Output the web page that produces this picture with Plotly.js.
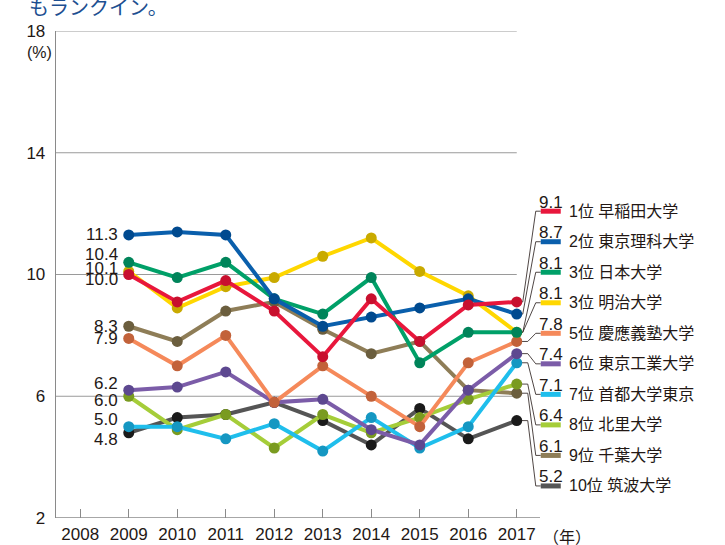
<!DOCTYPE html>
<html>
<head>
<meta charset="utf-8">
<script src="https://cdn.plot.ly/plotly-3.0.1.min.js"></script>
<style>
  body { margin: 0; background: #fff; }
  #chart { width: 725px; height: 545px; }
</style>
</head>
<body>
<div id="chart"></div>
<script>
// years and universities
const years = [2009, 2010, 2011, 2012, 2013, 2014, 2015, 2016, 2017];
const xTicks = [2008, 2009, 2010, 2011, 2012, 2013, 2014, 2015, 2016, 2017];
const ranks = ["1位", "2位", "3位", "3位", "5位", "6位", "7位", "8位", "9位", "10位"];
const names = ["早稲田大学", "東京理科大学", "日本大学", "明治大学", "慶應義塾大学",
  "東京工業大学", "首都大学東京", "北里大学", "千葉大学", "筑波大学"];

// shares (%) per year
const waseda   = [10.0, 9.1, 9.8, 8.8, 7.3, 9.2, 7.8, 9.0, 9.1];
const rikadai  = [11.3, 11.4, 11.3, 9.2, 8.3, 8.6, 8.9, 9.2, 8.7];
const nichidai = [10.4, 9.9, 10.4, 9.2, 8.7, 9.9, 7.1, 8.1, 8.1];
const meiji    = [10.1, 8.9, 9.6, 9.9, 10.6, 11.2, 10.1, 9.3, 8.1];
const keio     = [7.9, 7.0, 8.0, 5.8, 7.0, 6.0, 5.0, 7.1, 7.8];
const tokodai  = [6.2, 6.3, 6.8, 5.8, 5.9, 4.9, 4.4, 6.2, 7.4];
const shuto    = [5.0, 5.0, 4.6, 5.1, 4.2, 5.3, 4.3, 5.0, 7.1];
const kitasato = [6.0, 4.9, 5.4, 4.3, 5.4, 4.8, 5.3, 5.9, 6.4];
const chiba    = [8.3, 7.8, 8.8, 9.1, 8.2, 7.4, 7.8, 6.2, 6.1];
const tsukuba  = [4.8, 5.3, 5.4, 5.8, 5.2, 4.4, 5.6, 4.6, 5.2];
const series = [waseda, rikadai, nichidai, meiji, keio, tokodai, shuto, kitasato, chiba, tsukuba];

const lineColors = ["#e8173c", "#0a5fac", "#00a068", "#ffd700", "#f5895a",
  "#7b5ca8", "#1fbeec", "#a5cd39", "#8e7d57", "#555555"];
const markerColors = ["#c8102e", "#004a8f", "#00845a", "#c9aa00", "#c2623a",
  "#5d4890", "#1597c2", "#7a9b20", "#6b5e3e", "#1a1a1a"];

// pixel nudges for the 2009 start labels (same order as series)
const startShift = [-5, 0, 8, 3, 0, 7, 7, -4, 0, -7];

const FONT = '"Liberation Sans", Arial, "Noto Sans CJK JP", sans-serif';
const INK = "#231815";
const PXY = 48.5;            // pixels per year on the x axis
const px = p => p / PXY;     // pixels -> x data units
const x0 = 2007.5;
const x1 = x0 + 664 / PXY;

let traces = [];

// leader lines + colour bars on the right
series.forEach((s, i) => {
  const v = s[s.length - 1];
  const by = 12.08 - i * 1.003;
  const k1 = i < 4 ? 6 : 11;
  traces.push({
    x: [2017, 2017 + px(k1), 2017 + px(19), 2017 + px(24)],
    y: [v, v, by, by],
    mode: "lines", line: { color: INK, width: 0.8 },
    hoverinfo: "skip", showlegend: false
  });
  traces.push({
    x: [2017 + px(24), 2017 + px(44)],
    y: [by, by],
    mode: "lines", line: { color: lineColors[i], width: 5 },
    hoverinfo: "skip", showlegend: false
  });
});

// the series, rank 1 on top
for (let i = series.length - 1; i >= 0; i--) {
  traces.push({
    x: years, y: series[i], name: names[i],
    mode: "lines+markers",
    line: { color: lineColors[i], width: 4 },
    marker: { color: markerColors[i], size: 11 },
    showlegend: false
  });
}

let annotations = [];
series.forEach((s, i) => {
  annotations.push({
    x: 2009, y: s[0], xref: "x", yref: "y", text: s[0].toFixed(1),
    showarrow: false, xanchor: "right", yanchor: "middle",
    xshift: -9, yshift: startShift[i],
    font: { family: FONT, size: 17, color: INK }
  });
  const by = 12.08 - i * 1.003;
  const last = s[s.length - 1];
  annotations.push({
    x: 2017 + px(34), y: by, xref: "x", yref: "y", text: last.toFixed(1),
    showarrow: false, xanchor: "center", yanchor: "middle", yshift: 9,
    font: { family: FONT, size: 17, color: INK }
  });
  annotations.push({
    x: 2017 + px(50), y: by, xref: "x", yref: "y",
    text: ranks[i] + " " + names[i],
    showarrow: false, xanchor: "left", yanchor: "middle",
    font: { family: FONT, size: 16, color: INK }
  });
});
annotations.push({
  x: 0, y: 18, xref: "paper", yref: "y", text: "(%)", showarrow: false,
  xanchor: "center", yanchor: "middle", xshift: -17, yshift: -21,
  font: { family: FONT, size: 16, color: INK }
});
annotations.push({
  x: 2017 + px(50), y: 2, xref: "x", yref: "y", text: "（年）", showarrow: false,
  xanchor: "center", yanchor: "middle", yshift: -19,
  font: { family: FONT, size: 16, color: INK }
});
annotations.push({
  x: 0, y: 1, xref: "paper", yref: "paper", text: "もランクイン。", showarrow: false,
  xanchor: "left", yanchor: "middle", xshift: -29, yshift: 23,
  font: { family: FONT, size: 20, color: "#1d4f91" }
});

let shapes = [];
[6, 10, 14, 18].forEach(g => {
  shapes.push({
    type: "line", xref: "x", yref: "y", x0: x0, x1: 2017, y0: g, y1: g,
    line: { color: "#9a9a9a", width: 1.2 }, layer: "below"
  });
});
shapes.push({
  type: "line", xref: "x", yref: "y", x0: x0, x1: x0 + 484 / PXY, y0: 2, y1: 2,
  line: { color: "#8a8a8a", width: 1.3 }, layer: "below"
});

const layout = {
  width: 725, height: 545,
  margin: { l: 56, r: 5, t: 31, b: 27 },
  paper_bgcolor: "#fff", plot_bgcolor: "#fff",
  font: { family: FONT, color: INK },
  showlegend: false,
  xaxis: {
    range: [x0, x1], tickvals: xTicks, ticktext: xTicks.map(String),
    showgrid: false, zeroline: false, showline: false,
    ticks: "inside", ticklen: 9, tickwidth: 1.2, tickcolor: "#8a8a8a",
    ticklabelstandoff: 4,
    tickfont: { family: FONT, size: 17, color: INK }
  },
  yaxis: {
    range: [2, 18], tickvals: [2, 6, 10, 14, 18],
    showgrid: false, zeroline: false,
    showline: true, linecolor: "#8a8a8a", linewidth: 1.3,
    ticks: "", ticklabelstandoff: 6,
    tickfont: { family: FONT, size: 17, color: INK }
  },
  annotations: annotations,
  shapes: shapes
};

Plotly.newPlot("chart", traces, layout, { displayModeBar: false, staticPlot: true });
</script>
</body>
</html>
